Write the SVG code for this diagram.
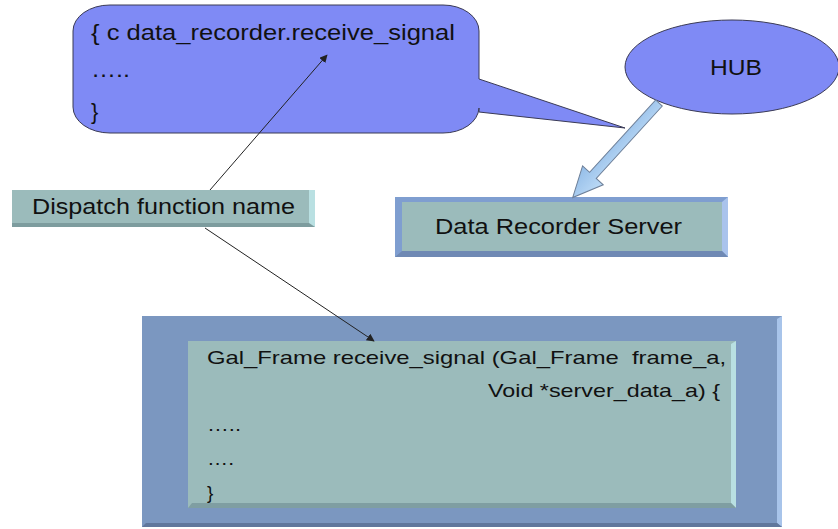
<svg xmlns="http://www.w3.org/2000/svg" width="838" height="529" viewBox="0 0 838 529">
  <defs>
    <style>
      text { font-family: "Liberation Sans", Arial, sans-serif; fill: #111; }
      .bubble { fill: #7f8af5; stroke: #3a3a55; stroke-width: 1; }
      .face { fill: #9bbbbb; }
      .frame { fill: #7b97c0; }
      .lite { fill: #b9e0e2; }
      .dark { fill: #6e8a8c; }
      .link { stroke: #222; stroke-width: 1; fill: none; marker-end: url(#tip); }
    </style>
    <marker id="tip" viewBox="0 0 10 10" refX="9" refY="5" markerWidth="8" markerHeight="8" markerUnits="userSpaceOnUse" orient="auto">
      <path d="M0,0 L10,5 L0,10 Z" fill="#222"/>
    </marker>
    <linearGradient id="blockArrow" x1="0" y1="0" x2="0" y2="1">
      <stop offset="0" stop-color="#bcdaf6"/>
      <stop offset="1" stop-color="#94bde8"/>
    </linearGradient>
  </defs>

  <!-- code callout -->
  <g id="callout">
    <path class="bubble" d="M110,5 H443 A36,26 0 0 1 479,31 V79 L625,128 L479,112 V108 A36,26 0 0 1 443,133 H110 A37,26 0 0 1 73,107 V31 A37,26 0 0 1 110,5 Z"/>
    <text x="91" y="40" font-size="22" textLength="364" lengthAdjust="spacingAndGlyphs">{ c data_recorder.receive_signal</text>
    <text x="91" y="77" font-size="22" textLength="39" lengthAdjust="spacingAndGlyphs">…..</text>
    <text x="91" y="119" font-size="22">}</text>
  </g>

  <!-- HUB -->
  <g id="hub">
    <ellipse class="bubble" cx="732" cy="67" rx="107" ry="47"/>
    <text x="736" y="75" font-size="22" text-anchor="middle" textLength="52" lengthAdjust="spacingAndGlyphs">HUB</text>
  </g>

  <!-- Dispatch function name -->
  <g id="dispatch">
    <rect x="12" y="190" width="303" height="37" fill="#7d9c9e"/>
    <rect x="12" y="190" width="303" height="33" class="face"/>
    <polygon points="309,190 315,190 315,227 309,223" class="lite"/>
    <text x="32" y="214" font-size="22" textLength="263" lengthAdjust="spacingAndGlyphs">Dispatch function name</text>
  </g>

  <!-- Data Recorder Server -->
  <g id="server">
    <rect x="395" y="197" width="333" height="60" fill="#7f9ed0"/>
    <polygon points="722,202 728,197 728,257 722,251" fill="#a9c3ec"/>
    <polygon points="395,257 402,251 722,251 728,257" fill="#6f89b4"/>
    <rect x="402" y="202" width="320" height="49" class="face"/>
    <text x="435" y="234" font-size="22" textLength="247" lengthAdjust="spacingAndGlyphs">Data Recorder Server</text>
  </g>

  <!-- receive_signal handler -->
  <g id="handler">
    <rect x="142" y="316" width="640" height="211" class="frame"/>
    <polygon points="777,319 782,316 782,527 777,523" fill="#a8c4ea"/>
    <polygon points="142,527 146,523 777,523 782,527" fill="#60779c"/>
    <rect x="188" y="341" width="548" height="167" class="face"/>
    <polygon points="731,344 736,341 736,508 731,503" class="lite"/>
    <polygon points="188,508 192,503 731,503 736,508" fill="#7f9ea2"/>
    <text x="207" y="364" font-size="19" xml:space="preserve" textLength="519" lengthAdjust="spacingAndGlyphs">Gal_Frame receive_signal (Gal_Frame  frame_a,</text>
    <text x="488" y="397" font-size="19" textLength="232" lengthAdjust="spacingAndGlyphs">Void *server_data_a) {</text>
    <text x="207" y="431" font-size="19" textLength="34" lengthAdjust="spacingAndGlyphs">…..</text>
    <text x="207" y="465" font-size="19" textLength="27" lengthAdjust="spacingAndGlyphs">….</text>
    <text x="207" y="499" font-size="19">}</text>
  </g>

  <!-- connectors -->
  <g id="connectors">
    <line class="link" x1="210" y1="190" x2="327" y2="55"/>
    <line class="link" x1="205" y1="228" x2="374" y2="341"/>
    <g transform="translate(659,103) rotate(132.4)">
      <path d="M0,-4.5 L98,-4.5 L98,-14 L128,0 L98,14 L98,4.5 L0,4.5 Z" fill="url(#blockArrow)" stroke="#6d7f98" stroke-width="1"/>
    </g>
  </g>
</svg>
